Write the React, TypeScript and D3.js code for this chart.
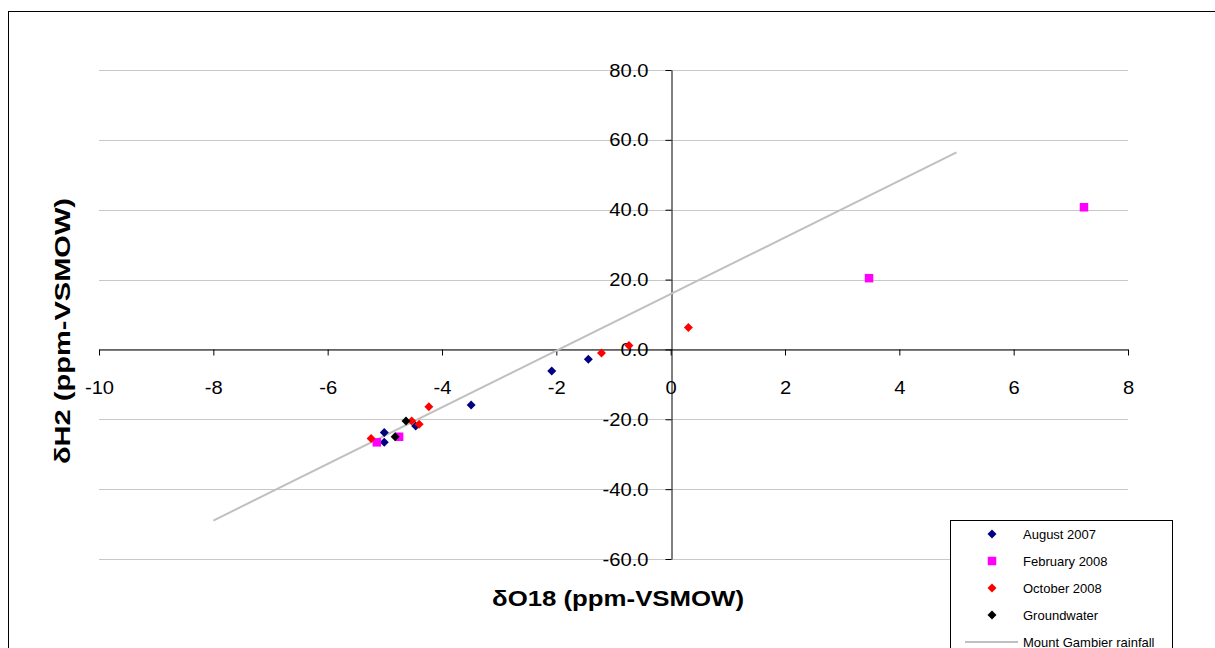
import { useEffect, useRef } from 'react'
import * as d3 from 'd3'

// readings: [δO18, δH2]
const august2007: [number, number][] = [
  [-3.49, -15.9], [-2.08, -6.2], [-1.44, -2.8], [-5.01, -23.8], [-5.01, -26.6], [-4.46, -21.9],
]
const february2008: [number, number][] = [
  [7.23, 40.7], [3.47, 20.4], [-4.75, -25.0], [-5.14, -26.6],
]
const october2008: [number, number][] = [
  [0.31, 6.3], [-0.73, 1.1], [-1.21, -1.0], [-4.23, -16.4], [-4.53, -20.5], [-4.4, -21.4], [-5.24, -25.5],
]
const groundwater: [number, number][] = [
  [-4.63, -20.5], [-4.82, -25.0],
]
const rainfallLine: [number, number][] = [[-8, -49], [5, 56.4]]

const xTicks = [-10, -8, -6, -4, -2, 0, 2, 4, 6, 8]
const yTicks = [-60, -40, -20, 0, 20, 40, 60, 80]

const FONT = '"Liberation Sans", Arial, sans-serif'

export default function App() {
  const svgRef = useRef<SVGSVGElement>(null)

  useEffect(() => {
    if (!svgRef.current) return
    const svg = d3.select(svgRef.current)
    svg.selectAll('*').remove()

    const x = d3.scaleLinear().domain([-10, 8]).range([99, 1128])
    const y = d3.scaleLinear().domain([-60, 80]).range([559, 70])

    // outer chart frame
    svg.append('rect')
      .attr('x', 8.5).attr('y', 11.5)
      .attr('width', 1300).attr('height', 800)
      .attr('fill', '#fff').attr('stroke', '#000').attr('stroke-width', 1)

    // gridlines
    svg.append('g').selectAll('line')
      .data(yTicks)
      .join('line')
      .attr('x1', x(-10)).attr('x2', x(8))
      .attr('y1', d => Math.round(y(d)) + 0.5).attr('y2', d => Math.round(y(d)) + 0.5)
      .attr('stroke', '#c8c8c8').attr('stroke-width', 1)

    // x axis through y=0
    const xAxis = svg.append('g')
      .attr('transform', `translate(0,${Math.round(y(0)) + 0.5})`)
      .call(d3.axisBottom(x).tickValues(xTicks).tickSize(6).tickSizeOuter(0).tickFormat(d => String(d)))
    xAxis.select('.domain').attr('stroke', '#000')
    xAxis.selectAll('.tick line').attr('stroke', '#000')
    xAxis.selectAll('.tick text')
      .attr('y', 0).attr('dy', 0)
      .attr('transform', 'translate(0,44) scale(1.12,1)')
      .attr('font-family', FONT).attr('font-size', 18).attr('fill', '#000')

    // y axis through x=0
    const yAxis = svg.append('g')
      .attr('transform', `translate(${Math.round(x(0)) + 0.5},0)`)
      .call(d3.axisLeft(y).tickValues(yTicks).tickSize(6).tickSizeOuter(0).tickFormat(d => (+d).toFixed(1)))
    yAxis.select('.domain').attr('stroke', '#000')
    yAxis.selectAll('.tick line').attr('stroke', '#000')
    yAxis.selectAll('.tick text')
      .attr('x', 0).attr('dy', '0.34em')
      .attr('transform', 'translate(-23,0) scale(1.12,1)')
      .attr('text-anchor', 'end')
      .attr('font-family', FONT).attr('font-size', 18).attr('fill', '#000')

    // Mount Gambier rainfall line
    const line = d3.line<[number, number]>().x(d => x(d[0])).y(d => y(d[1]))
    svg.append('path')
      .attr('d', line(rainfallLine))
      .attr('fill', 'none').attr('stroke', '#c0c0c0').attr('stroke-width', 2)

    const diamond = d3.symbol().type(d3.symbolSquare).size(40)
    const square = d3.symbol().type(d3.symbolSquare).size(72)

    const series = [
      { data: august2007, color: '#000080', shape: 'diamond' },
      { data: february2008, color: '#ff00ff', shape: 'square' },
      { data: october2008, color: '#ff0000', shape: 'diamond' },
      { data: groundwater, color: '#000000', shape: 'diamond' },
    ]
    series.forEach(s => {
      svg.append('g').selectAll('path')
        .data(s.data)
        .join('path')
        .attr('d', s.shape === 'square' ? square() : diamond())
        .attr('transform', d => `translate(${x(d[0])},${y(d[1])})` + (s.shape === 'square' ? '' : ' rotate(45)'))
        .attr('fill', s.color)
    })

    // axis titles
    svg.append('text')
      .attr('x', 618).attr('y', 606)
      .attr('text-anchor', 'middle')
      .attr('font-family', FONT).attr('font-weight', 'bold').attr('font-size', 22)
      .attr('textLength', 252).attr('lengthAdjust', 'spacingAndGlyphs')
      .text('δO18 (ppm-VSMOW)')
    svg.append('text')
      .attr('transform', 'translate(70,331) rotate(-90)')
      .attr('text-anchor', 'middle')
      .attr('font-family', FONT).attr('font-weight', 'bold').attr('font-size', 22)
      .attr('textLength', 266).attr('lengthAdjust', 'spacingAndGlyphs')
      .text('δH2 (ppm-VSMOW)')

    // legend
    const legend = svg.append('g')
    legend.append('rect')
      .attr('x', 950.5).attr('y', 520.5).attr('width', 222).attr('height', 200)
      .attr('fill', '#fff').attr('stroke', '#000').attr('stroke-width', 1)
    const legendItems = [
      { label: 'August 2007', color: '#000080', shape: 'diamond' },
      { label: 'February 2008', color: '#ff00ff', shape: 'square' },
      { label: 'October 2008', color: '#ff0000', shape: 'diamond' },
      { label: 'Groundwater', color: '#000000', shape: 'diamond' },
      { label: 'Mount Gambier rainfall', color: '#c0c0c0', shape: 'line' },
    ]
    const ly = d3.scalePoint<number>().domain(d3.range(legendItems.length)).range([534, 642])
    legendItems.forEach((item, i) => {
      const cy = ly(i) || 0
      if (item.shape === 'line') {
        legend.append('line')
          .attr('x1', 965).attr('x2', 1018).attr('y1', cy).attr('y2', cy)
          .attr('stroke', item.color).attr('stroke-width', 2)
      } else {
        legend.append('path')
          .attr('d', item.shape === 'square' ? square() : diamond())
          .attr('transform', `translate(992,${cy})` + (item.shape === 'square' ? '' : ' rotate(45)'))
          .attr('fill', item.color)
      }
      legend.append('text')
        .attr('x', 1023).attr('y', cy).attr('dy', '0.35em')
        .attr('font-family', FONT).attr('font-size', 13).attr('fill', '#000')
        .text(item.label)
    })
  }, [])

  return (
    <svg
      ref={svgRef}
      width={1215}
      height={648}
      style={{ position: 'absolute', left: 0, top: 0, background: '#fff' }}
    />
  )
}
